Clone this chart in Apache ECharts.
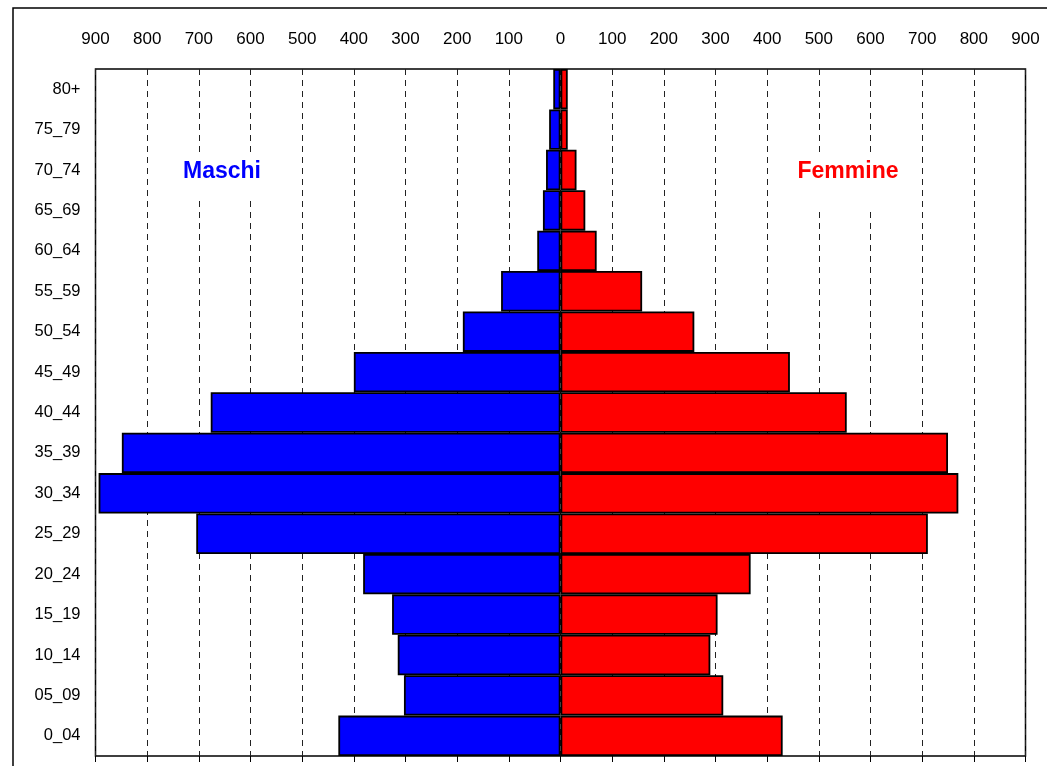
<!DOCTYPE html>
<html>
<head>
<meta charset="utf-8">
<script src="https://cdn.jsdelivr.net/npm/echarts@6/dist/echarts.min.js"></script>
<style>
html,body{margin:0;padding:0;background:#fff;}
#chart{width:1047px;height:766px;}
</style>
</head>
<body>
<div id="chart"></div>
<script>
const categories = ['0_04','05_09','10_14','15_19','20_24','25_29','30_34','35_39','40_44','45_49','50_54','55_59','60_64','65_69','70_74','75_79','80+'];
const maschi = [430,303,315,326,382,705,894,849,677,400,189,115,45,34,28,22,14];
const femmine = [430,315,290,304,368,711,770,750,554,444,259,158,70,48,31,14,14];
const xTicks = [-900,-800,-700,-600,-500,-400,-300,-200,-100,0,100,200,300,400,500,600,700,800,900];

const chart = echarts.init(document.getElementById('chart'), null, {renderer:'canvas'});
const font = 'Arial, "Liberation Sans", sans-serif';
chart.setOption({
  animation: false,
  backgroundColor: '#fff',
  grid: {left: 95.5, right: 21.5, top: 69, bottom: 10, show: true, borderColor: '#000', borderWidth: 1.5, backgroundColor: 'transparent'},
  xAxis: [{
    type: 'value', position: 'top', min: xTicks[0], max: xTicks[xTicks.length-1], interval: 100,
    axisLine: {show: false}, axisTick: {show: false},
    axisLabel: {color: '#000', fontSize: 17, fontFamily: font, margin: 21, formatter: v => String(Math.abs(v))},
    splitLine: {show: true, lineStyle: {color: '#222', type: [6, 5], width: 1}}
  }, {
    type: 'value', position: 'bottom', min: xTicks[0], max: xTicks[xTicks.length-1], interval: 100,
    axisLine: {show: false}, axisLabel: {show: false}, splitLine: {show: false},
    axisTick: {show: true, length: 6, inside: false, lineStyle: {color: '#000', width: 1}}
  }],
  yAxis: {
    type: 'category', data: categories,
    axisLine: {show: false}, axisTick: {show: false},
    axisLabel: {color: '#000', fontSize: 16.5, fontFamily: font, margin: 15}
  },
  series: [{
    name: 'Maschi', type: 'bar', xAxisIndex: 0, data: maschi.map(v => -v),
    barWidth: '100%', barGap: '-100%',
    itemStyle: {color: '#0000ff', borderColor: '#000', borderWidth: 1.8}
  }, {
    name: 'Femmine', type: 'bar', xAxisIndex: 0, data: femmine,
    barWidth: '100%', barGap: '-100%',
    itemStyle: {color: '#ff0000', borderColor: '#000', borderWidth: 1.8}
  }],
  graphic: [
    {type: 'rect', shape: {x: 13, y: 8, width: 1060, height: 800}, style: {fill: 'none', stroke: '#000', lineWidth: 1.5}, z: 100, silent: true},
    {type: 'rect', shape: {x: 160, y: 152, width: 124, height: 46}, style: {fill: '#fff'}, z: 100},
    {type: 'text', x: 222, y: 172, style: {text: 'Maschi', fill: '#0000ff', font: 'bold 23px ' + font, align: 'center', verticalAlign: 'middle'}, z: 101},
    {type: 'rect', shape: {x: 780, y: 152, width: 136, height: 58}, style: {fill: '#fff'}, z: 100},
    {type: 'text', x: 848, y: 172, style: {text: 'Femmine', fill: '#ff0000', font: 'bold 23px ' + font, align: 'center', verticalAlign: 'middle'}, z: 101}
  ]
});
</script>
</body>
</html>
